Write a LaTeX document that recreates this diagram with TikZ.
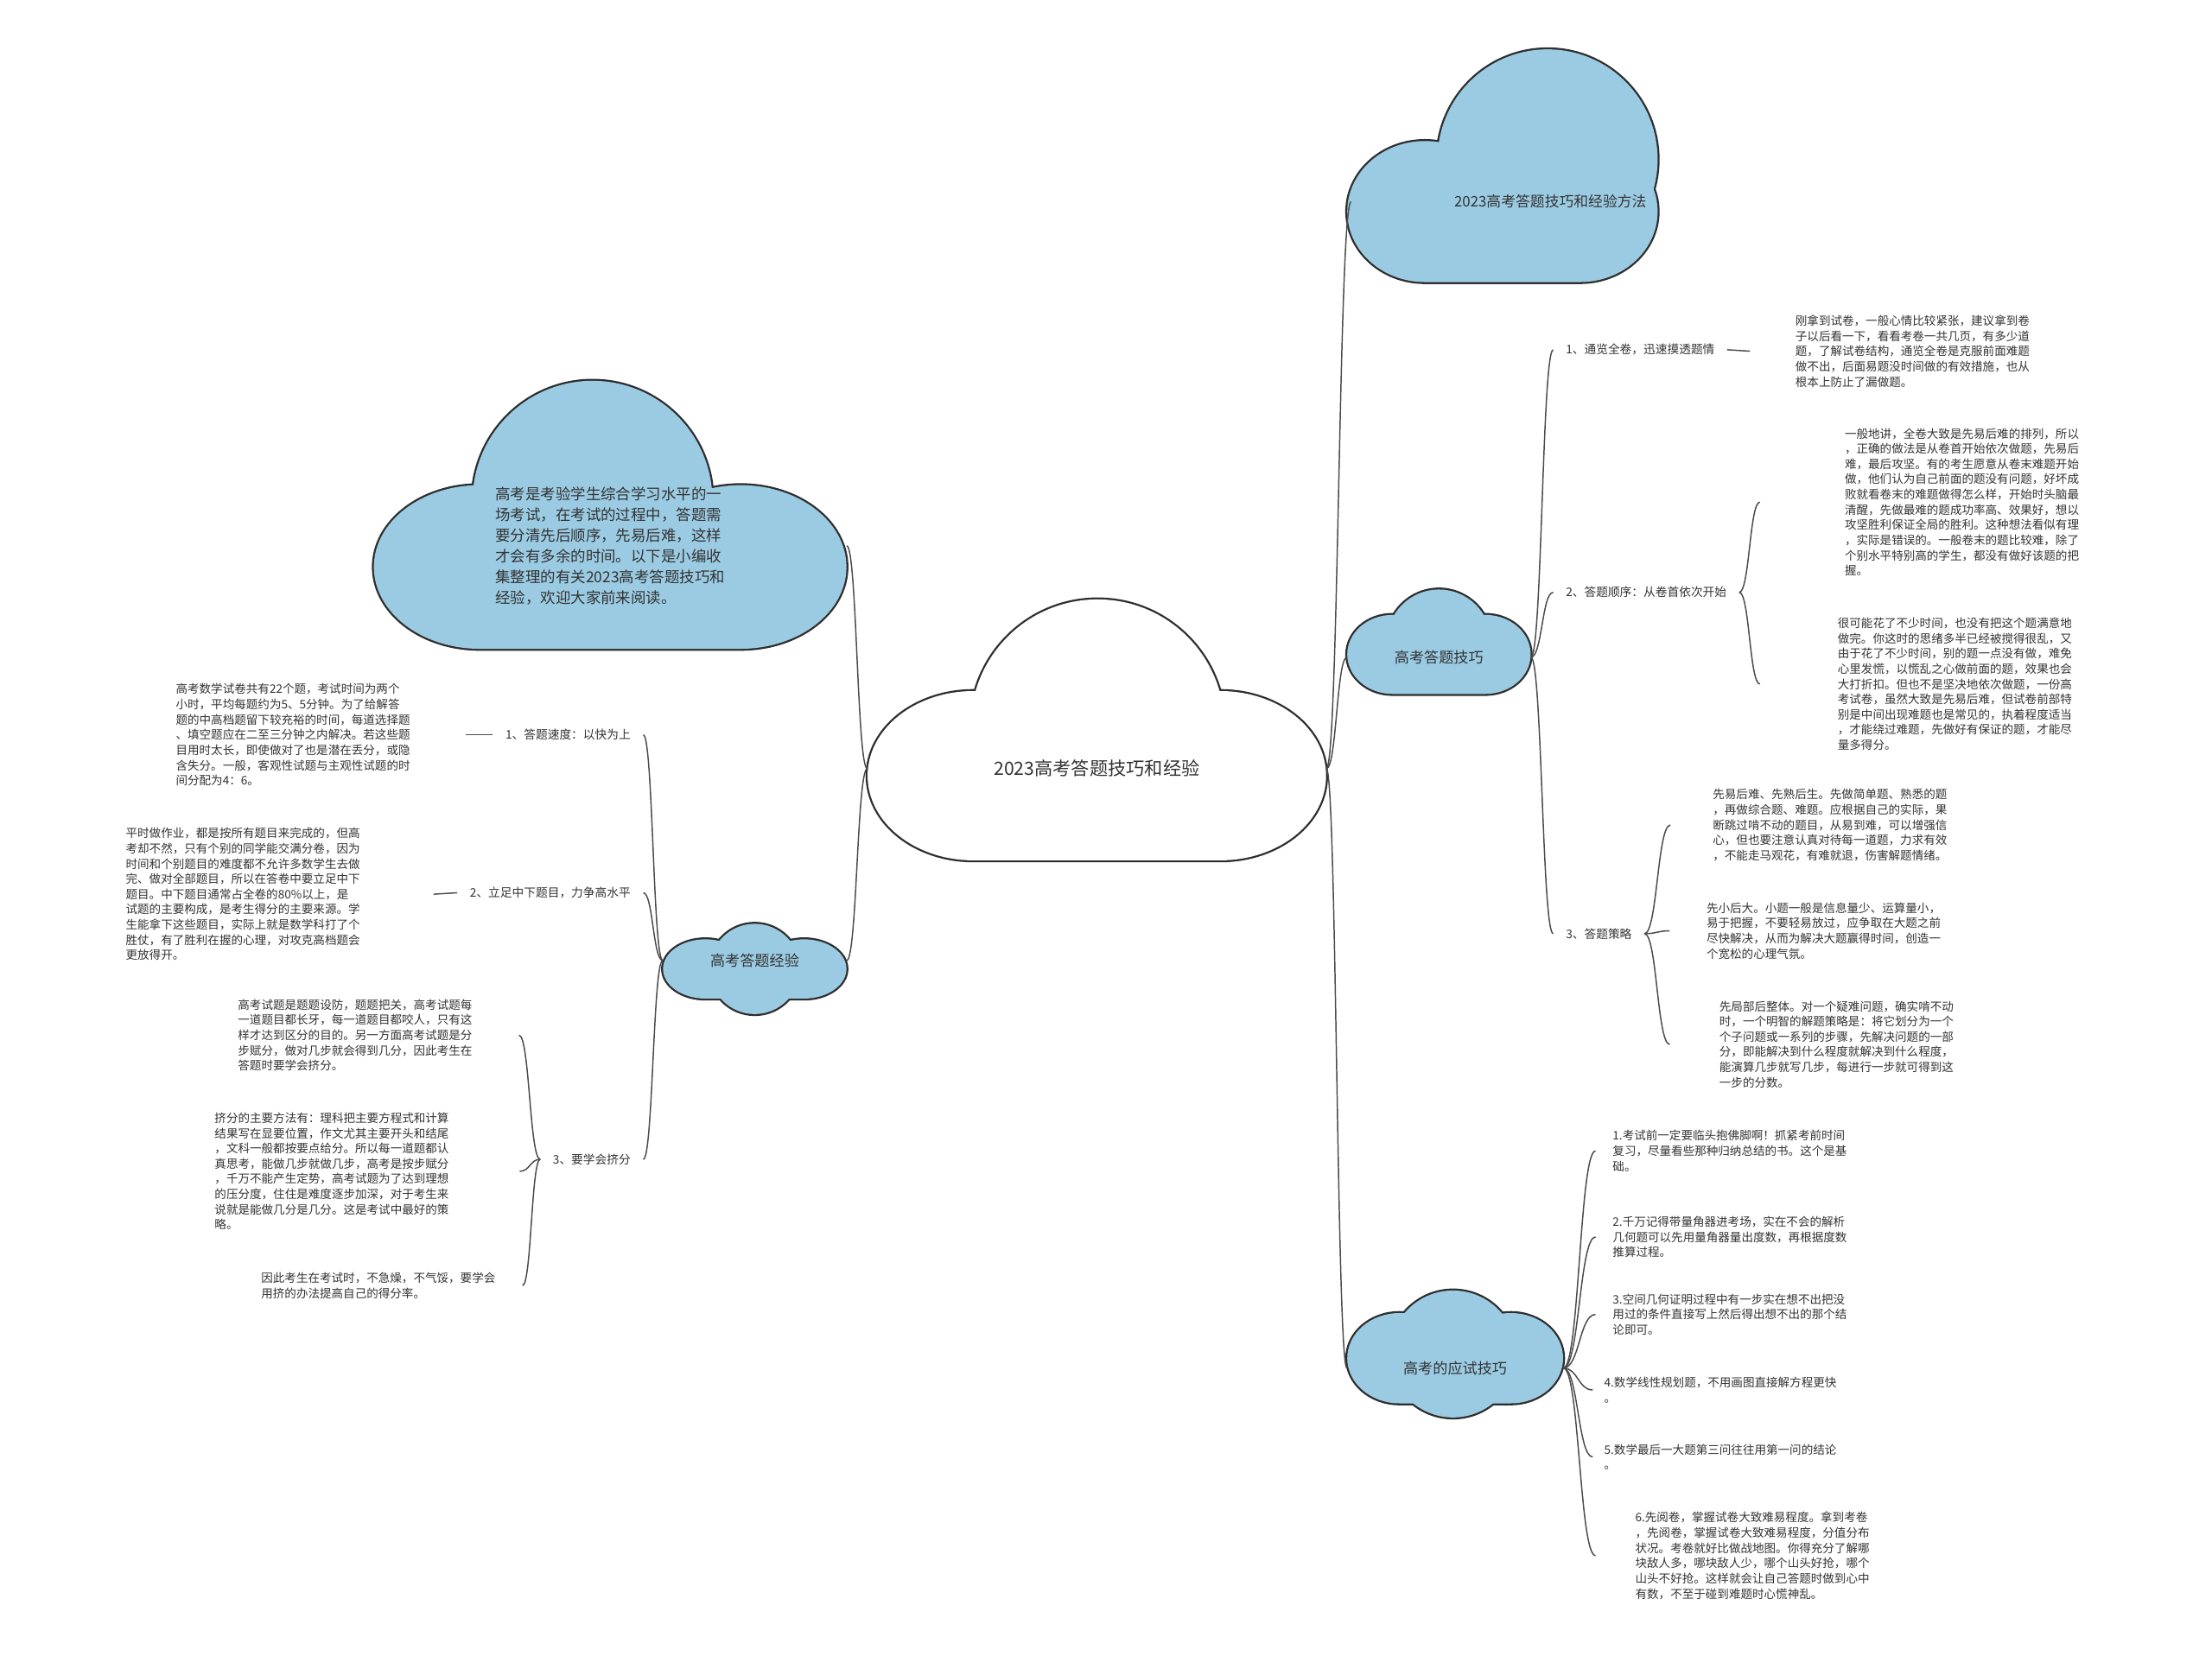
\documentclass[tikz,border=0pt]{standalone}
\usepackage{fontspec}
\setmainfont{Noto Sans CJK SC}
\usetikzlibrary{calc}
\definecolor{cloudblue}{HTML}{9BCBE2}
\definecolor{cloudline}{HTML}{2E2E2E}
\definecolor{ink}{HTML}{333333}
\definecolor{linkline}{HTML}{4A4A4A}
\tikzset{
  cloudtext/.style={inner sep=0pt,text=ink,
                    font=\fontsize{10.5}{13}\selectfont},
  topic/.style={inner sep=0pt,outer xsep=9pt,text=ink,
                font=\fontsize{8.4}{10.8}\selectfont},
  note/.style={inner sep=0pt,align=left,text=ink,
               font=\fontsize{8.3}{10.8}\selectfont},
  branch/.style={draw=linkline,line width=0.9pt,
    to path={let \p1=(\tikztostart),\p2=(\tikztotarget) in
      .. controls ({0.5*\x1+0.5*\x2},\y1) and ({0.5*\x1+0.5*\x2},\y2)
      .. (\tikztotarget)}},
}
% cloud: fill, left, right, bottom, dome x, dome y, dome r, lobe rx, lobe ry
\newcommand\drawcloud[9]{%
  \path[draw=cloudline,line width=2.8pt]
    (#5,#6) circle[radius=#7pt]
    ({#2+#8},{#4-#9}) ellipse[x radius=#8pt,y radius=#9pt]
    ({#3-#8},{#4-#9}) ellipse[x radius=#8pt,y radius=#9pt]
    ({#2+#8},{#4-#9}) rectangle ({#3-#8},#4);
  \path[fill=#1]
    (#5,#6) circle[radius=#7pt]
    ({#2+#8},{#4-#9}) ellipse[x radius=#8pt,y radius=#9pt]
    ({#3-#8},{#4-#9}) ellipse[x radius=#8pt,y radius=#9pt]
    ({#2+#8},{#4-#9}) rectangle ({#3-#8},#4);
}

\begin{document}
\begin{tikzpicture}[x=1pt,y=-1pt]
    \useasboundingbox[fill=white] (0,0) rectangle (1568,1174);

    % Clouds
    \drawcloud{white}{615}{940}{610}{778}{515}{90}{75}{60}
    \drawcloud{cloudblue}{955}{1175}{200}{1097}{113}{78}{55}{50}
    \drawcloud{cloudblue}{955}{1085}{492}{1020}{455}{37}{32}{28}
    \drawcloud{cloudblue}{955}{1108}{995}{1030}{960}{45}{37}{32}
    \drawcloud{cloudblue}{265}{600}{460}{420}{355}{85}{75}{58}
    \drawcloud{cloudblue}{470}{600}{708}{535}{687}{32}{30}{21}

    % Cloud texts
    \node[cloudtext,font=\fontsize{13}{16}\selectfont,minimum width=325pt]
        (main) at (777.5,545) {2023高考答题技巧和经验};
    \node[cloudtext,font=\fontsize{10.7}{14.7}\selectfont,align=left,
          minimum width=335pt] (intro) at (432.5,387)
        {高考是考验学生综合学习水平的一\\场考试，在考试的过程中，答题需\\
         要分清先后顺序，先易后难，这样\\才会有多余的时间。以下是小编收\\
         集整理的有关2023高考答题技巧和\\经验，欢迎大家前来阅读。};
    \node[cloudtext,font=\fontsize{10.3}{12}\selectfont]
        (methods) at (1099,143) {2023高考答题技巧和经验方法};
    \node[cloudtext,minimum width=130pt] (skills)     at (1020,466)   {高考答题技巧};
    \node[cloudtext,minimum width=153pt] (tactics)    at (1031.5,970) {高考的应试技巧};
    \node[cloudtext,minimum width=130pt] (experience) at (535,681)    {高考答题经验};

    % Topics
    \node[topic,anchor=east] (ll1) at (456,521) {1、答题速度：以快为上};
    \node[topic,anchor=east] (ll2) at (456,633) {2、立足中下题目，力争高水平};
    \node[topic,anchor=east] (ll3) at (456,822) {3、要学会挤分};
    \node[topic,anchor=west] (rl1) at (1101,248) {1、通览全卷，迅速摸透题情};
    \node[topic,anchor=west] (rl2) at (1101,420) {2、答题顺序：从卷首依次开始};
    \node[topic,anchor=west] (rl3) at (1101,662) {3、答题策略};

    % Notes, left
    \node[note,anchor=west] (l1) at (124.5,521)
        {高考数学试卷共有22个题，考试时间为两个\\小时，平均每题约为5、5分钟。为了给解答\\
         题的中高档题留下较充裕的时间，每道选择题\\、填空题应在二至三分钟之内解决。若这些题\\
         目用时太长，即使做对了也是潜在丢分，或隐\\含失分。一般，客观性试题与主观性试题的时\\
         间分配为4：6。};
    \node[note,anchor=west] (l2) at (89,634)
        {平时做作业，都是按所有题目来完成的，但高\\考却不然，只有个别的同学能交满分卷，因为\\
         时间和个别题目的难度都不允许多数学生去做\\完、做对全部题目，所以在答卷中要立足中下\\
         题目。中下题目通常占全卷的80\%以上，是\\试题的主要构成，是考生得分的主要来源。学\\
         生能拿下这些题目，实际上就是数学科打了个\\胜仗，有了胜利在握的心理，对攻克高档题会\\
         更放得开。};
    \node[note,anchor=west] (l3) at (168.5,734)
        {高考试题是题题设防，题题把关，高考试题每\\一道题目都长牙，每一道题目都咬人，只有这\\
         样才达到区分的目的。另一方面高考试题是分\\步赋分，做对几步就会得到几分，因此考生在\\
         答题时要学会挤分。};
    \node[note,anchor=west] (l4) at (152,830.5)
        {挤分的主要方法有：理科把主要方程式和计算\\结果写在显要位置，作文尤其主要开头和结尾\\
         ，文科一般都按要点给分。所以每一道题都认\\真思考，能做几步就做几步，高考是按步赋分\\
         ，千万不能产生定势，高考试题为了达到理想\\的压分度，住住是难度逐步加深，对于考生来\\
         说就是能做几分是几分。这是考试中最好的策\\略。};
    \node[note,anchor=west] (l5) at (185,911.5)
        {因此考生在考试时，不急燥，不气馁，要学会\\用挤的办法提高自己的得分率。};

    % Notes, right
    \node[note,anchor=west] (r1) at (1272.5,249)
        {刚拿到试卷，一般心情比较紧张，建议拿到卷\\子以后看一下，看看考卷一共几页，有多少道\\
         题，了解试卷结构，通览全卷是克服前面难题\\做不出，后面易题没时间做的有效措施，也从\\
         根本上防止了漏做题。};
    \node[note,anchor=west] (r2) at (1307.5,356)
        {一般地讲，全卷大致是先易后难的排列，所以\\，正确的做法是从卷首开始依次做题，先易后\\
         难，最后攻坚。有的考生愿意从卷末难题开始\\做，他们认为自己前面的题没有问题，好坏成\\
         败就看卷末的难题做得怎么样，开始时头脑最\\清醒，先做最难的题成功率高、效果好，想以\\
         攻坚胜利保证全局的胜利。这种想法看似有理\\，实际是错误的。一般卷末的题比较难，除了\\
         个别水平特别高的学生，都没有做好该题的把\\握。};
    \node[note,anchor=west] (r3) at (1302.5,485)
        {很可能花了不少时间，也没有把这个题满意地\\做完。你这时的思绪多半已经被搅得很乱，又\\
         由于花了不少时间，别的题一点没有做，难免\\心里发慌，以慌乱之心做前面的题，效果也会\\
         大打折扣。但也不是坚决地依次做题，一份高\\考试卷，虽然大致是先易后难，但试卷前部特\\
         别是中间出现难题也是常见的，执着程度适当\\，才能绕过难题，先做好有保证的题，才能尽\\
         量多得分。};
    \node[note,anchor=west] (r4) at (1214,585)
        {先易后难、先熟后生。先做简单题、熟悉的题\\，再做综合题、难题。应根据自己的实际，果\\
         断跳过啃不动的题目，从易到难，可以增强信\\心，但也要注意认真对待每一道题，力求有效\\
         ，不能走马观花，有难就退，伤害解题情绪。};
    \node[note,anchor=west] (r5) at (1209.5,660)
        {先小后大。小题一般是信息量少、运算量小，\\易于把握，不要轻易放过，应争取在大题之前\\
         尽快解决，从而为解决大题赢得时间，创造一\\个宽松的心理气氛。};
    \node[note,anchor=west] (r6) at (1218.6,740.5)
        {先局部后整体。对一个疑难问题，确实啃不动\\时，一个明智的解题策略是：将它划分为一个\\
         个子问题或一系列的步骤，先解决问题的一部\\分，即能解决到什么程度就解决到什么程度，\\
         能演算几步就写几步，每进行一步就可得到这\\一步的分数。};

    % Notes, bottom
    \node[note,anchor=west] (b1) at (1143,816)
        {1.考试前一定要临头抱佛脚啊！抓紧考前时间\\复习，尽量看些那种归纳总结的书。这个是基\\础。};
    \node[note,anchor=west] (b2) at (1143,877)
        {2.千万记得带量角器进考场，实在不会的解析\\几何题可以先用量角器量出度数，再根据度数\\推算过程。};
    \node[note,anchor=west] (b3) at (1143,932)
        {3.空间几何证明过程中有一步实在想不出把没\\用过的条件直接写上然后得出想不出的那个结\\论即可。};
    \node[note,anchor=west] (b4) at (1137,985.5)
        {4.数学线性规划题，不用画图直接解方程更快\\。};
    \node[note,anchor=west] (b5) at (1137,1033)
        {5.数学最后一大题第三问往往用第一问的结论\\。};
    \node[note,anchor=west] (b6) at (1159,1103)
        {6.先阅卷，掌握试卷大致难易程度。拿到考卷\\，先阅卷，掌握试卷大致难易程度，分值分布\\
         状况。考卷就好比做战地图。你得充分了解哪\\块敌人多，哪块敌人少，哪个山头好抢，哪个\\
         山头不好抢。这样就会让自己答题时做到心中\\有数，不至于碰到难题时心慌神乱。};

    % Branches from the centre
    \draw[branch] (main.east) to ([xshift=-73]methods.west);
    \draw[branch] (main.east) to (skills.west);
    \draw[branch] (main.east) to (tactics.west);
    \draw[branch] (main.west) to (intro.east);
    \draw[branch] (main.west) to (experience.east);

    % Branches, right
    \draw[branch] (skills.east) to (rl1.west);
    \draw[branch] (skills.east) to (rl2.west);
    \draw[branch] (skills.east) to (rl3.west);
    \draw[branch] (rl1.east) to ([xshift=-32]r1.west);
    \draw[branch] (rl2.east) to ([xshift=-60]r2.west);
    \draw[branch] (rl2.east) to ([xshift=-55]r3.west);
    \draw[branch] (rl3.east) to ([xshift=-30]r4.west);
    \draw[branch] (rl3.east) to ([xshift=-26]r5.west);
    \draw[branch] (rl3.east) to ([xshift=-35]r6.west);
    \foreach \b/\d in {b1/12,b2/12,b3/12,b4/8,b5/8,b6/28}
        \draw[branch] (tactics.east) to ([xshift=-\d]\b.west);

    % Branches, left
    \draw[branch] (experience.west) to (ll1.east);
    \draw[branch] (experience.west) to (ll2.east);
    \draw[branch] (experience.west) to (ll3.east);
    \draw[branch] (ll1.west) to ([xshift=39]l1.east);
    \draw[branch] (ll2.west) to ([xshift=52]l2.east);
    \draw[branch] (ll3.west) to ([xshift=33]l3.east);
    \draw[branch] (ll3.west) to ([xshift=50]l4.east);
    \draw[branch] (ll3.west) to ([xshift=19]l5.east);
\end{tikzpicture}
\end{document}
